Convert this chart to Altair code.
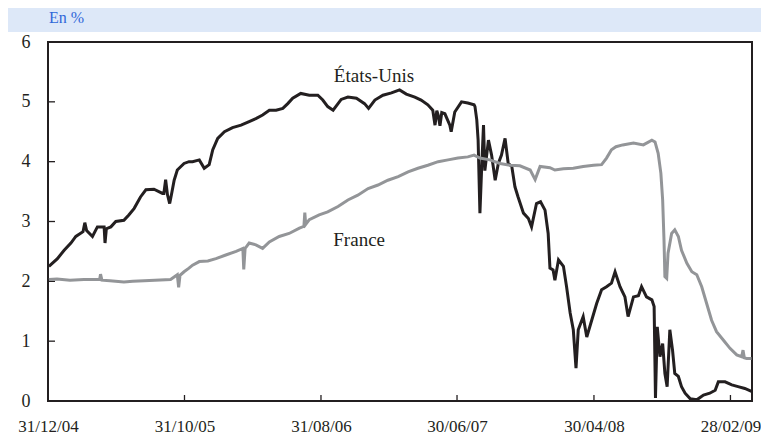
import altair as alt
import pandas as pd

BASE = pd.Timestamp("2004-12-31")

# Days since 31/12/2004 and values (%)
us_days = [2, 21, 36, 51, 62, 78, 82, 86, 99, 110, 125, 127, 130, 140, 151, 169, 180, 192, 206, 218,
           236, 255, 258, 262, 266, 271, 275, 281, 288, 303, 314, 322, 337, 348, 359, 367, 378, 393,
           411, 430, 448, 463, 478, 493, 508, 523, 534, 545, 563, 582, 601, 612, 623, 635, 653, 668,
           687, 705, 714, 728, 746, 765, 783, 798, 817, 831, 846, 857, 862, 866, 869, 873, 877, 884,
           895, 898, 906, 921, 935, 949, 951, 955, 958, 962, 966, 970, 973, 981, 988, 996, 1003, 1010,
           1018, 1025, 1033, 1040, 1047, 1059, 1070, 1077, 1088, 1097, 1107, 1114, 1118, 1125, 1129,
           1137, 1148, 1155, 1163, 1170, 1176, 1181, 1192, 1200, 1211, 1222, 1233, 1244, 1255, 1263,
           1274, 1285, 1292, 1304, 1315, 1322, 1333, 1345, 1350, 1353, 1357, 1363, 1369, 1374, 1379,
           1385, 1391, 1396, 1404, 1411, 1419, 1430, 1445, 1460, 1474, 1486, 1493, 1508, 1523, 1537,
           1552, 1567]
us_vals = [2.25, 2.38, 2.52, 2.64, 2.75, 2.83, 2.98, 2.85, 2.75, 2.91, 2.91, 2.64, 2.88, 2.91, 3.0,
           3.02, 3.11, 3.22, 3.41, 3.53, 3.54, 3.47, 3.47, 3.70, 3.45, 3.30, 3.45, 3.69, 3.86, 3.97,
           4.0, 4.0, 4.03, 3.89, 3.95, 4.20, 4.39, 4.50, 4.57, 4.61, 4.67, 4.72, 4.78, 4.86, 4.86,
           4.89, 4.97, 5.06, 5.14, 5.11, 5.11, 5.03, 4.92, 4.86, 5.04, 5.08, 5.06, 4.97, 4.89, 5.03,
           5.11, 5.15, 5.20, 5.13, 5.08, 5.03, 4.95, 4.86, 4.61, 4.85, 4.78, 4.60, 4.82, 4.80, 4.61,
           4.50, 4.83, 5.0, 4.98, 4.95, 4.92, 4.70, 4.36, 3.14, 3.92, 4.61, 3.85, 4.36, 4.11, 3.69,
           3.97, 4.11, 4.39, 3.97, 3.92, 3.58, 3.41, 3.14, 3.05, 2.91, 3.30, 3.33, 3.19, 2.80, 2.22,
           2.19, 2.02, 2.36, 2.25, 1.91, 1.47, 1.19, 0.55, 1.19, 1.41, 1.07, 1.35, 1.63, 1.86, 1.91,
           1.97, 2.16, 1.91, 1.74, 1.41, 1.74, 1.76, 1.91, 1.74, 1.69, 1.58, 0.05, 1.24, 0.74, 0.96,
           0.46, 0.24, 1.19, 0.85, 0.46, 0.41, 0.24, 0.13, 0.04, 0.02, 0.10, 0.13, 0.18, 0.32, 0.32,
           0.27, 0.24, 0.21, 0.16]

fr_days = [2, 20, 49, 80, 115, 117, 120, 138, 169, 189, 214, 238, 273, 288, 291, 294, 303, 314, 322,
           337, 356, 374, 396, 419, 434, 436, 439, 448, 463, 478, 493, 515, 537, 560, 570, 572, 574,
           582, 604, 623, 646, 668, 690, 713, 735, 757, 780, 802, 824, 846, 869, 891, 913, 935, 949,
           962, 984, 1007, 1029, 1051, 1074, 1085, 1096, 1118, 1129, 1148, 1170, 1192, 1215, 1233,
           1244, 1255, 1265, 1280, 1304, 1326, 1345, 1352, 1359, 1365, 1369, 1372, 1374, 1378, 1381,
           1389, 1396, 1404, 1411, 1423, 1434, 1445, 1456, 1467, 1478, 1489, 1504, 1519, 1534, 1545,
           1548, 1551, 1556, 1567]
fr_vals = [2.03, 2.04, 2.02, 2.03, 2.03, 2.12, 2.02, 2.01, 1.99, 2.0, 2.01, 2.02, 2.03, 2.11, 1.90,
           2.10, 2.16, 2.22, 2.27, 2.33, 2.34, 2.38, 2.44, 2.50, 2.55, 2.20, 2.55, 2.64, 2.61, 2.55,
           2.66, 2.75, 2.80, 2.89, 2.92, 3.15, 2.95, 3.03, 3.11, 3.16, 3.25, 3.36, 3.44, 3.55, 3.61,
           3.69, 3.75, 3.83, 3.89, 3.94, 4.0, 4.03, 4.06, 4.08, 4.11, 4.06, 4.03, 3.97, 3.94, 3.93,
           3.86, 3.70, 3.92, 3.90, 3.86, 3.88, 3.89, 3.92, 3.94, 3.95, 4.06, 4.20, 4.25, 4.28, 4.31,
           4.28, 4.36, 4.33, 4.14, 3.81, 3.36, 2.69, 2.08, 2.05, 2.47, 2.80, 2.86, 2.75, 2.52, 2.30,
           2.16, 2.11, 1.91, 1.63, 1.35, 1.16, 1.02, 0.88, 0.77, 0.74, 0.85, 0.72, 0.71, 0.71]

tick_dates = ["2004-12-31", "2005-10-31", "2006-08-31", "2007-06-30", "2008-04-30", "2009-02-28"]
y_ticks = [0, 1, 2, 3, 4, 5, 6]

series_labels = ["États-Unis", "France"]
label_days = [726, 693]
label_vals = [5.43, 2.69]

FONT = "Liberation Serif, Times New Roman, serif"
INK = "#231f20"
GREY = "#939598"
W, H = 704, 359


def to_dates(days):
    return BASE + pd.to_timedelta(days, unit="D")


df_us = pd.DataFrame({"date": to_dates(us_days), "v": us_vals})
df_fr = pd.DataFrame({"date": to_dates(fr_days), "v": fr_vals})
df_lab = pd.DataFrame({"date": to_dates(label_days), "v": label_vals, "label": series_labels})
df_xt = pd.DataFrame({"date": pd.to_datetime(tick_dates[1:])})
df_yt = pd.DataFrame({"v": y_ticks[1:-1]})

tick_dt = [alt.DateTime(year=int(d[:4]), month=int(d[5:7]), date=int(d[8:])) for d in tick_dates]
x_scale = alt.Scale(domain=[alt.DateTime(year=2004, month=12, date=31),
                            alt.DateTime(year=2009, month=4, date=17)], nice=False)
y_scale = alt.Scale(domain=[0, 6], nice=False)

x_axis = alt.Axis(values=tick_dt, format="%d/%m/%y", title=None, tickSize=0, domain=False,
                  grid=False, labelFont=FONT, labelFontSize=17, labelColor=INK, labelPadding=17,
                  labelFlush=False, labelOverlap=False)
y_axis = alt.Axis(values=y_ticks, format="d", title=None, tickSize=0, domain=False, grid=False,
                  labelFont=FONT, labelFontSize=18, labelColor=INK, labelPadding=18)

X = alt.X("date:T", scale=x_scale, axis=x_axis, title=None)
Y = alt.Y("v:Q", scale=y_scale, axis=y_axis, title=None)

us_line = alt.Chart(df_us).mark_line(color=INK, strokeWidth=3, strokeJoin="miter").encode(x=X, y=Y)
fr_line = alt.Chart(df_fr).mark_line(color=GREY, strokeWidth=3, strokeJoin="miter").encode(x=X, y=Y)

x_ticks = alt.Chart(df_xt).mark_rule(color=INK, strokeWidth=1.3).encode(
    x=X, y=alt.value(H - 6), y2=alt.value(H))
y_tick_rules = alt.Chart(df_yt).mark_rule(color=INK, strokeWidth=1.3).encode(
    y=Y, x=alt.value(0), x2=alt.value(7))

labels = alt.Chart(df_lab).mark_text(font=FONT, fontSize=19, color=INK).encode(
    x=X, y=Y, text="label:N")

band = alt.Chart(alt.Data(values=[{}])).mark_rect(color="#dde8f8").encode(
    x=alt.value(-40), x2=alt.value(W + 9), y=alt.value(-34), y2=alt.value(-10))
unit = alt.Chart(alt.Data(values=[{}])).mark_text(
    font=FONT, fontSize=16, color="#2f67d8", align="left", baseline="alphabetic").encode(
    x=alt.value(1), y=alt.value(-19), text=alt.value("En %"))

chart = alt.layer(band, unit, x_ticks, y_tick_rules, us_line, fr_line, labels).properties(
    width=W, height=H,
    autosize=alt.AutoSizeParams(type="none"),
    padding={"left": 40, "top": 34, "right": 9, "bottom": 36},
    background="white",
).configure_view(stroke=INK, strokeWidth=2).configure_axis(
    labelFont=FONT, labelColor=INK)

chart.save("out.html", embed_options={"renderer": "svg", "actions": False})
